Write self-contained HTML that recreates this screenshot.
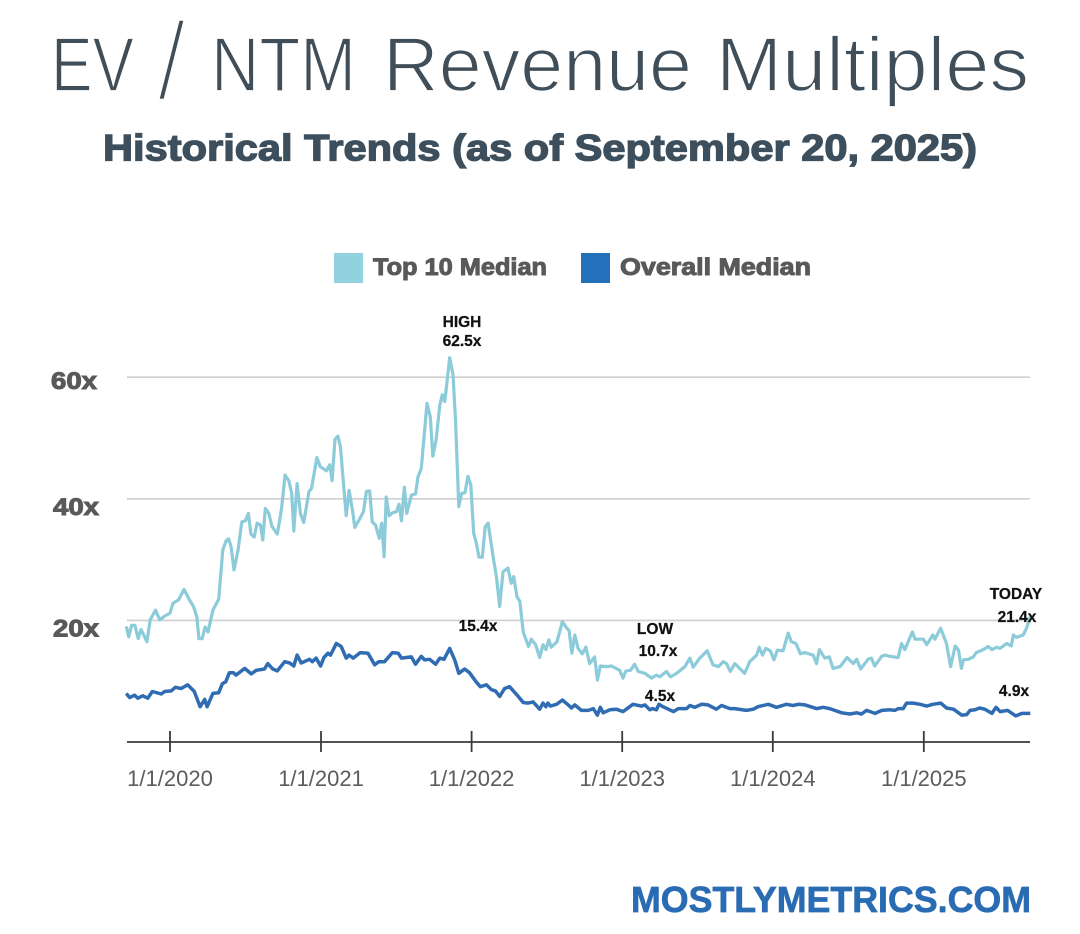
<!DOCTYPE html>
<html lang="en">
<head>
<meta charset="utf-8">
<title>EV / NTM Revenue Multiples</title>
<style>
html,body{margin:0;padding:0;background:#fff;width:1080px;height:934px;overflow:hidden}
svg{display:block;font-family:"Liberation Sans",sans-serif}
</style>
</head>
<body>
<svg id="chart" width="1080" height="934" viewBox="0 0 1080 934" xmlns="http://www.w3.org/2000/svg">
  <g font-size="77" fill="#3f4e58" stroke="#fff" stroke-width="1.7">
    <text x="51" y="91" textLength="83" lengthAdjust="spacingAndGlyphs">EV</text>
    <text x="157" y="100" font-size="112" stroke-width="4.4" textLength="29" lengthAdjust="spacingAndGlyphs">/</text>
    <text x="211" y="91" textLength="145" lengthAdjust="spacingAndGlyphs">NTM</text>
    <text x="383" y="91" textLength="309" lengthAdjust="spacingAndGlyphs">Revenue</text>
    <text x="716" y="91" textLength="313" lengthAdjust="spacingAndGlyphs">Multiples</text>
  </g>
  <text x="103" y="160.5" font-size="37" font-weight="700" fill="#3d4f5c" stroke="#3d4f5c" stroke-width="1.3" textLength="874" lengthAdjust="spacingAndGlyphs">Historical Trends (as of September 20, 2025)</text>

  <rect x="334" y="253" width="29" height="30" fill="#90d2de"/>
  <text x="373" y="275" font-size="24" font-weight="700" fill="#58595b" stroke="#58595b" stroke-width="1" textLength="174" lengthAdjust="spacingAndGlyphs">Top 10 Median</text>
  <rect x="581" y="253" width="29" height="30" fill="#2470bb"/>
  <text x="620" y="275" font-size="24" font-weight="700" fill="#58595b" stroke="#58595b" stroke-width="1" textLength="191" lengthAdjust="spacingAndGlyphs">Overall Median</text>

  <g id="grid"></g>
  <g id="axis"></g>
  <g id="series"></g>

  <g font-size="15.5" font-weight="700" fill="#111" stroke="#111" stroke-width=".25" text-anchor="middle">
    <text x="462" y="327">HIGH</text>
    <text x="462" y="346">62.5x</text>
    <text x="478" y="631">15.4x</text>
    <text x="655" y="634">LOW</text>
    <text x="658" y="656">10.7x</text>
    <text x="660" y="701">4.5x</text>
    <text x="1016" y="599">TODAY</text>
    <text x="1017" y="622">21.4x</text>
    <text x="1014" y="696">4.9x</text>
  </g>

  <text x="631" y="912" font-size="36" font-weight="700" fill="#2a6cb3" stroke="#2a6cb3" stroke-width=".7" textLength="400" lengthAdjust="spacingAndGlyphs">MOSTLYMETRICS.COM</text>
</svg>
<script>
// Days since 1/1/2020 and multiple (x)
const top10Days = [-106,-100,-93,-85,-77,-70,-56,-48,-35,-25,-13,0,7,21,34,47,57,65,70,78,85,92,104,118,128,136,142,148,155,165,174,183,190,196,204,211,219,225,231,239,247,260,270,279,288,295,300,308,316,324,337,343,356,364,379,387,393,400,407,413,427,434,442,448,458,469,476,484,490,498,507,513,519,524,531,539,549,555,561,568,574,585,595,601,609,623,631,637,645,654,660,666,678,686,692,700,707,715,722,729,736,742,749,757,764,771,783,791,799,807,819,827,833,841,848,856,869,876,886,896,904,911,918,924,938,951,962,967,974,981,989,999,1008,1017,1029,1036,1043,1058,1070,1090,1098,1105,1116,1126,1135,1151,1167,1179,1187,1203,1213,1228,1248,1260,1268,1284,1302,1316,1329,1341,1349,1358,1369,1393,1405,1422,1428,1436,1444,1455,1464,1472,1486,1498,1506,1517,1528,1539,1559,1567,1574,1587,1598,1607,1624,1641,1656,1664,1674,1692,1700,1708,1725,1733,1745,1765,1773,1781,1799,1806,1826,1834,1849,1854,1868,1882,1892,1903,1911,1918,1923,1935,1947,1954,1971,1983,1992,2004,2012,2028,2039,2044,2052,2068,2076,2085];
const top10Values = [19.0,17.3,19.2,19.2,17.0,18.5,16.5,20.1,21.7,20.1,20.7,21.2,22.8,23.4,25.1,23.4,22.3,20.6,17.0,17.0,18.9,18.1,21.7,23.5,31.6,33.1,33.4,32.1,28.3,31.6,36.2,36.4,37.6,34.2,33.7,36.0,35.7,33.2,38.4,37.7,35.5,34.2,38.2,43.9,43.0,40.9,34.7,42.5,37.6,36.1,41.2,41.7,46.8,45.3,44.6,45.6,43.0,49.8,50.3,48.6,37.2,41.4,38.2,35.3,36.5,37.9,41.2,41.3,36.2,35.7,33.5,36.0,30.5,40.3,37.2,37.7,37.9,39.1,36.4,41.9,37.6,40.6,40.8,43.6,45.0,55.7,53.5,47.0,49.7,55.4,57.1,56.0,63.2,60.4,53.0,38.7,40.9,41.0,43.7,42.3,34.3,32.9,30.4,30.4,35.4,36.0,30.5,27.2,22.3,28.0,28.6,26.1,27.2,23.9,23.1,18.1,15.7,16.9,16.0,13.9,16.0,15.2,16.8,15.6,16.5,19.8,18.7,18.4,14.6,17.6,15.4,14.5,15.6,12.9,14.0,10.2,12.5,12.4,12.5,11.8,10.5,11.7,11.8,12.8,11.6,11.3,10.5,11.0,10.7,11.6,10.7,11.3,12.4,13.8,12.3,13.8,15.0,12.7,12.4,13.2,12.9,11.6,12.9,11.3,13.2,14.3,15.6,14.3,15.4,15.0,13.5,15.1,15.0,17.9,16.5,16.2,14.5,14.7,14.3,12.9,15.2,13.8,14.0,12.1,12.4,13.9,12.9,13.6,12.0,13.6,13.8,12.5,14.1,14.3,14.1,13.9,16.2,15.2,18.1,16.9,16.9,16.0,17.6,16.9,18.7,16.2,12.4,15.8,15.1,12.1,13.5,13.6,14.0,14.7,15.2,15.7,15.2,15.6,15.4,16.2,15.8,17.6,17.2,17.6,18.7,20.6];
const overallDays = [-106,-98,-86,-78,-66,-54,-43,-21,-13,3,13,27,43,59,73,84,90,104,118,127,135,144,154,160,181,197,209,229,237,249,260,278,290,300,308,318,338,345,354,365,373,383,389,403,415,427,434,444,461,480,496,506,520,539,553,561,585,595,609,617,629,644,654,664,678,690,700,714,726,742,752,767,779,789,799,811,823,844,856,868,880,896,904,911,916,922,937,951,965,973,981,997,1014,1026,1036,1043,1050,1066,1082,1098,1122,1143,1151,1163,1169,1179,1185,1195,1220,1232,1252,1260,1272,1288,1304,1324,1337,1357,1369,1397,1414,1425,1450,1470,1494,1510,1523,1539,1567,1583,1599,1628,1648,1664,1676,1688,1709,1725,1745,1757,1765,1777,1785,1801,1818,1834,1849,1868,1882,1899,1919,1931,1939,1951,1962,1975,1992,2002,2012,2030,2050,2065,2085];
const overallValues = [8.0,7.3,7.7,7.2,7.6,7.2,8.3,7.9,8.3,8.4,9.0,8.8,9.4,8.3,5.8,7.0,5.8,8.0,8.1,9.6,9.9,11.4,11.4,11.0,12.1,11.2,11.8,12.0,12.9,12.0,11.7,13.2,13.0,12.5,14.3,13.0,13.6,13.2,13.8,12.5,13.9,14.6,14.3,16.2,15.7,13.8,14.3,13.8,14.7,14.6,12.7,13.2,13.2,14.7,14.6,13.8,14.0,12.8,14.1,13.5,13.6,12.8,13.8,13.6,15.4,13.5,11.3,12.0,11.4,9.9,9.1,9.4,8.6,8.4,7.5,8.8,9.1,7.5,6.5,6.4,6.6,5.4,6.4,5.8,6.4,5.9,6.2,6.9,6.1,5.6,6.1,5.2,5.2,5.5,4.4,5.7,4.8,5.3,5.4,5.0,6.2,5.9,6.1,5.3,5.5,5.3,6.2,5.8,5.0,5.5,5.5,6.0,5.7,6.2,6.1,5.4,6.0,5.5,5.5,5.2,5.4,5.8,6.2,5.7,6.2,6.0,6.2,6.1,5.5,5.7,5.5,4.8,4.6,4.8,4.6,5.2,4.7,5.2,5.3,5.2,5.5,5.5,6.4,6.4,6.2,5.9,6.2,6.4,5.6,5.4,4.4,4.5,5.2,5.3,5.6,5.4,4.7,5.7,5.0,5.2,4.3,4.7,4.7];
const yTickValues = [20,40,60];
const yTickLabels = ['20x','40x','60x'];
const xTickDays = [0,366,731,1096,1461,1827];
const xTickLabels = ['1/1/2020','1/1/2021','1/1/2022','1/1/2023','1/1/2024','1/1/2025'];

const NS = 'http://www.w3.org/2000/svg';
const plotLeft = 127, plotRight = 1030, axisY = 742;
function xScale(day){ return 170 + day * 150.7 / 365.25; }
function yScale(v){ return axisY - v * 6.08; }
function make(tag, attrs, parent, txt){
  const el = document.createElementNS(NS, tag);
  for (const k in attrs) el.setAttribute(k, attrs[k]);
  if (txt !== undefined) el.textContent = txt;
  parent.appendChild(el);
  return el;
}
const grid = document.getElementById('grid');
const axis = document.getElementById('axis');
const series = document.getElementById('series');

yTickValues.forEach(function(v, i){
  const y = yScale(v);
  const line = make('line', {x1: plotLeft, x2: plotRight, y1: y, y2: y, stroke: '#cfcfcf', 'stroke-width': 1.6}, grid);
  
  
  const nudge = v === 60 ? 12 : 16;
  const left = v === 60 ? 51 : 53;
  const label = make('text', {x: left, y: y + nudge, 'font-size': 24, 'font-weight': 700, fill: '#58595b', stroke: '#58595b', 'stroke-width': 1, textLength: 46, lengthAdjust: 'spacingAndGlyphs'}, grid, yTickLabels[i]);
  
  
});

const baseline = make('line', {x1: plotLeft, x2: plotRight, y1: axisY, y2: axisY, stroke: '#3a3a3a', 'stroke-width': 1.8}, axis);



xTickDays.forEach(function(d, i){
  const x = xScale(d);
  const tick = make('line', {x1: x, x2: x, y1: axisY - 11, y2: axisY + 10, stroke: '#3a3a3a', 'stroke-width': 1.8}, axis);
  
  
  const label = make('text', {x: x, y: 786, 'text-anchor': 'middle', 'font-size': 22, fill: '#5c5c5c'}, axis, xTickLabels[i]);
  
  
});

function pathFrom(days, values){
  return days.map(function(d, i){
    return (i ? 'L' : 'M') + xScale(d).toFixed(1) + ' ' + yScale(values[i]).toFixed(1);
  }).join(' ');
}
const top10Line = make('path', {d: pathFrom(top10Days, top10Values), fill: 'none', stroke: '#8ccbd9', 'stroke-width': 3.2, 'stroke-linejoin': 'round'}, series);


const overallLine = make('path', {d: pathFrom(overallDays, overallValues), fill: 'none', stroke: '#2f6cb2', 'stroke-width': 3.5, 'stroke-linejoin': 'round'}, series);


</script>
</body>
</html>
